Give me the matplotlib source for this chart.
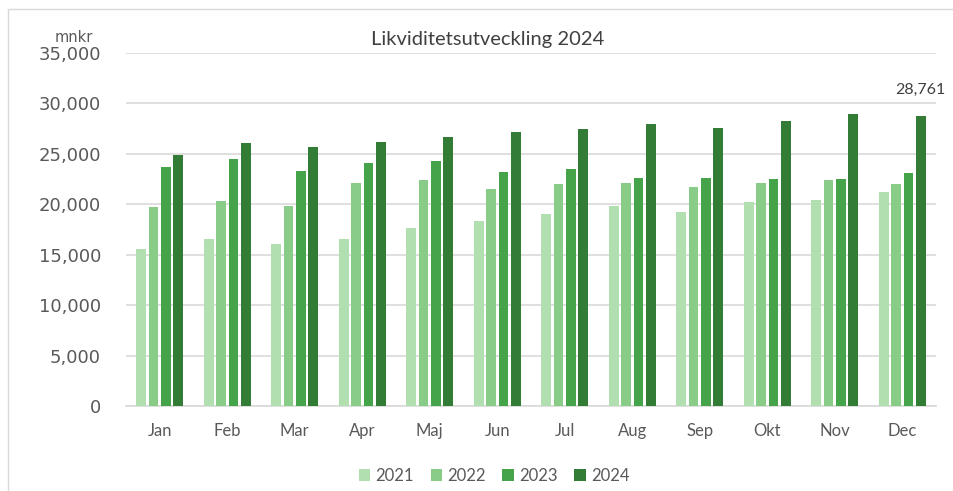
import matplotlib.pyplot as plt
from matplotlib.patches import Rectangle
from matplotlib.ticker import FuncFormatter

MONTHS = ["Jan", "Feb", "Mar", "Apr", "Maj", "Jun", "Jul", "Aug", "Sep", "Okt", "Nov", "Dec"]
YEARS = ["2021", "2022", "2023", "2024"]

V2021 = [15590, 16540, 16080, 16580, 17600, 18320, 19050, 19870, 19280, 20230, 20430, 21220]
V2022 = [19770, 20300, 19870, 22140, 22400, 21520, 22040, 22140, 21750, 22110, 22370, 22040]
V2023 = [23650, 24510, 23300, 24090, 24310, 23230, 23460, 22640, 22640, 22540, 22500, 23130]
V2024 = [24880, 26120, 25670, 26220, 26690, 27150, 27440, 28000, 27540, 28270, 28930, 28761]

COLORS = ["#B2DFB0", "#88CC88", "#45A449", "#327C36"]
GRID = "#D9D9D9"
TEXT = "#595959"


def main() -> None:
    fig = plt.figure(figsize=(9.54, 4.91), dpi=100)
    ax = fig.add_axes([126 / 954, 1 - 406 / 491, 810 / 954, 353 / 491])

    series = [V2021, V2022, V2023, V2024]
    x = list(range(len(MONTHS)))
    pitch, width = 0.182, 0.144
    for i, (year, vals, col) in enumerate(zip(YEARS, series, COLORS)):
        xs = [xi + (i - 1.5) * pitch for xi in x]
        ax.bar(xs, vals, width=width, color=col, label=year, zorder=3)

    # data label on last bar
    ax.annotate(f"{V2024[-1]:,}", xy=(x[-1] + 1.5 * pitch, V2024[-1]), xytext=(0, 14),
                textcoords="offset points", ha="center", va="bottom",
                fontsize=11.5, color="#404040", family="Lato")

    ax.set_xlim(-0.5, len(MONTHS) - 0.5)
    ax.set_ylim(0, 35000)
    ax.set_yticks(range(0, 35001, 5000))
    ax.yaxis.set_major_formatter(FuncFormatter(lambda v, _: f"{int(v):,}"))
    ax.set_xticks(x)
    ax.set_xticklabels(MONTHS, family="Lato", fontsize=12, color=TEXT)
    ax.tick_params(axis="y", length=0, pad=18, labelsize=13, labelcolor=TEXT)
    ax.tick_params(axis="x", length=0, pad=12)
    ax.grid(axis="y", color=GRID, linewidth=1.2, zorder=0)
    for side in ("left", "right", "top"):
        ax.spines[side].set_visible(False)
    ax.spines["bottom"].set_color(GRID)
    ax.spines["bottom"].set_linewidth(1.2)

    fig.text(74 / 954, 1 - 38 / 491, "mnkr", ha="center", va="center", fontsize=10.5, color=TEXT)
    fig.text(488 / 954, 1 - 40 / 491, "Likviditetsutveckling 2024", ha="center", va="center",
             fontsize=14.5, color="#404040", family="Lato")

    fig.legend(loc="center", bbox_to_anchor=(494 / 954, 1 - 476 / 491), ncol=4, frameon=False,
               handlelength=0.7, handleheight=0.7, handletextpad=0.3, columnspacing=1.0,
               prop={"family": "Lato", "size": 12}, labelcolor=TEXT)

    fig.patches.append(Rectangle((8 / 954, -0.05), 1.2, 1.05 - 9 / 491, transform=fig.transFigure,
                                 fill=False, edgecolor=GRID, linewidth=1))

    fig.savefig("out.png", dpi=100)


if __name__ == "__main__":
    main()
